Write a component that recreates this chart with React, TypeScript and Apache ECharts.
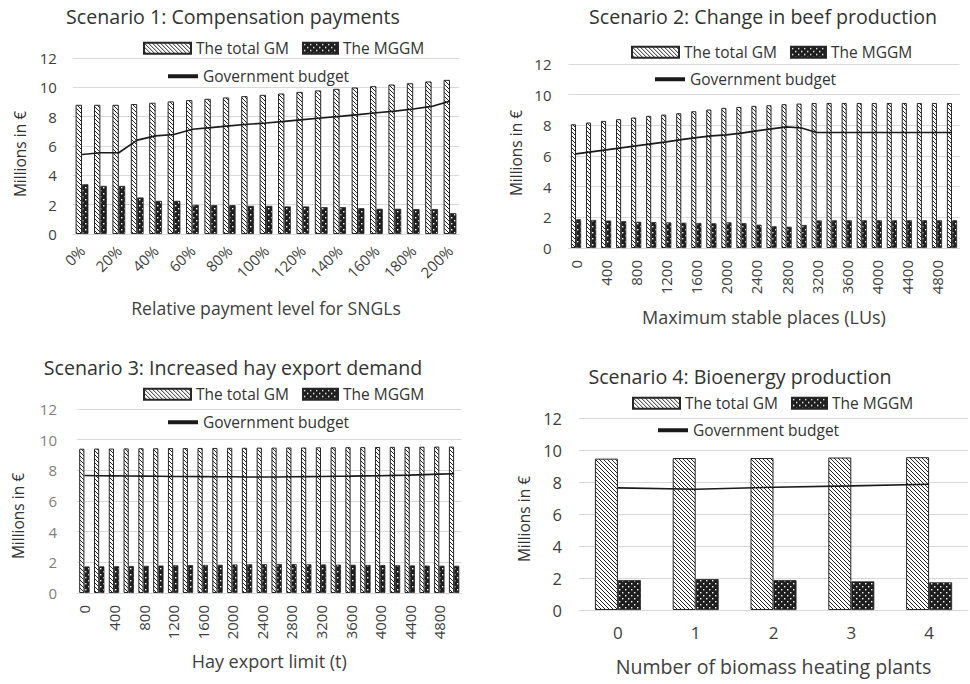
import React, { useEffect, useRef } from 'react';
import * as echarts from 'echarts';

// ---------- data ----------
const s1Cats = ['0%', '10%', '20%', '30%', '40%', '50%', '60%', '70%', '80%', '90%', '100%', '110%', '120%', '130%', '140%', '150%', '160%', '170%', '180%', '190%', '200%'];
const s1Total = [8.81, 8.81, 8.81, 8.86, 8.95, 9.04, 9.13, 9.22, 9.31, 9.4, 9.49, 9.58, 9.69, 9.79, 9.9, 9.99, 10.08, 10.19, 10.28, 10.4, 10.51];
const s1MGGM = [3.39, 3.28, 3.28, 2.49, 2.26, 2.26, 1.99, 1.97, 1.97, 1.92, 1.92, 1.88, 1.88, 1.83, 1.83, 1.76, 1.72, 1.72, 1.7, 1.7, 1.42];
const s1Budget = [5.42, 5.54, 5.54, 6.4, 6.69, 6.78, 7.14, 7.25, 7.37, 7.48, 7.57, 7.68, 7.8, 7.91, 8.02, 8.14, 8.27, 8.38, 8.52, 8.7, 9.06];

const s2Cats = ['0', '200', '400', '600', '800', '1000', '1200', '1400', '1600', '1800', '2000', '2200', '2400', '2600', '2800', '3000', '3200', '3400', '3600', '3800', '4000', '4200', '4400', '4600', '4800', '5000'];
const s2Total = [8.07, 8.18, 8.29, 8.4, 8.51, 8.62, 8.7, 8.79, 8.92, 9.03, 9.14, 9.2, 9.27, 9.31, 9.38, 9.42, 9.46, 9.46, 9.46, 9.46, 9.46, 9.46, 9.46, 9.46, 9.46, 9.46];
const s2MGGM = [1.87, 1.83, 1.79, 1.75, 1.71, 1.69, 1.67, 1.65, 1.63, 1.61, 1.67, 1.62, 1.52, 1.42, 1.39, 1.5, 1.8, 1.81, 1.81, 1.81, 1.81, 1.81, 1.81, 1.81, 1.81, 1.81];
const s2Budget = [6.14, 6.27, 6.4, 6.53, 6.66, 6.79, 6.92, 7.07, 7.2, 7.31, 7.38, 7.49, 7.64, 7.77, 7.9, 7.83, 7.53, 7.53, 7.53, 7.53, 7.53, 7.53, 7.53, 7.53, 7.53, 7.53];

const s3Cats = ['0', '200', '400', '600', '800', '1000', '1200', '1400', '1600', '1800', '2000', '2200', '2400', '2600', '2800', '3000', '3200', '3400', '3600', '3800', '4000', '4200', '4400', '4600', '4800', '5000'];
const s3Total = [9.41, 9.42, 9.42, 9.43, 9.44, 9.44, 9.45, 9.45, 9.46, 9.46, 9.47, 9.47, 9.48, 9.48, 9.49, 9.49, 9.5, 9.5, 9.51, 9.51, 9.52, 9.53, 9.53, 9.54, 9.55, 9.55];
const s3MGGM = [1.73, 1.74, 1.75, 1.76, 1.77, 1.79, 1.81, 1.82, 1.83, 1.84, 1.86, 1.87, 1.88, 1.89, 1.88, 1.87, 1.86, 1.85, 1.84, 1.83, 1.82, 1.81, 1.8, 1.79, 1.78, 1.78];
const s3Budget = [7.66, 7.65, 7.64, 7.63, 7.62, 7.61, 7.6, 7.6, 7.59, 7.58, 7.58, 7.57, 7.57, 7.57, 7.58, 7.59, 7.6, 7.61, 7.62, 7.64, 7.65, 7.67, 7.69, 7.72, 7.75, 7.78];

const s4Cats = ['0', '1', '2', '3', '4'];
const s4Total = [9.46, 9.5, 9.5, 9.53, 9.55];
const s4MGGM = [1.87, 1.93, 1.87, 1.79, 1.73];
const s4Budget = [7.63, 7.55, 7.67, 7.76, 7.86];

const NAME_GM = 'The total GM';
const NAME_MG = 'The MGGM';
const NAME_BUD = 'Government budget';

const FONT = '"Open Sans", "Noto Sans", sans-serif';

function stripePattern() {
  const s = 4;
  const c = document.createElement('canvas');
  c.width = s; c.height = s;
  const g = c.getContext('2d')!;
  g.fillStyle = '#ffffff';
  g.fillRect(0, 0, s, s);
  g.strokeStyle = '#262626';
  g.lineWidth = 1;
  g.beginPath();
  g.moveTo(-1, -1); g.lineTo(s + 1, s + 1);
  g.moveTo(-1, s - 1); g.lineTo(1, s + 1);
  g.moveTo(s - 1, -1); g.lineTo(s + 1, 1);
  g.stroke();
  return { image: c, repeat: 'repeat', imageWidth: s, imageHeight: s };
}

function dotPattern() {
  const s = 6;
  const c = document.createElement('canvas');
  c.width = s; c.height = s;
  const g = c.getContext('2d')!;
  g.fillStyle = '#1e1e1e';
  g.fillRect(0, 0, s, s);
  g.fillStyle = '#ffffff';
  g.fillRect(1, 1, 1.4, 1.4);
  g.fillRect(4, 4, 1.4, 1.4);
  return { image: c, repeat: 'repeat', imageWidth: s, imageHeight: s };
}

type Panel = {
  title: string; titleX: number; titleY: number;
  grid: { left: number; top: number; width: number; height: number };
  cats: string[]; total: number[]; mggm: number[]; budget: number[];
  barWidth: number;
  xName: string; xNameGap: number; xNameSize: number;
  xRotate: number; xInterval: number; xMargin: number; xLabelSize: number;
  yLabelSize: number; yLabelColor: string; yMargin: number;
  yNameX: number; yNameY: number;
  legGM: [number, number]; legMG: [number, number]; legBud: [number, number];
};

const panels: Panel[] = [
  {
    title: 'Scenario 1: Compensation payments', titleX: 233, titleY: 16,
    grid: { left: 72.8, top: 58, width: 386.4, height: 176 },
    cats: s1Cats, total: s1Total, mggm: s1MGGM, budget: s1Budget, barWidth: 6.4,
    xName: 'Relative payment level for SNGLs', xNameGap: 65, xNameSize: 17.6,
    xRotate: 45, xInterval: 1, xMargin: 14, xLabelSize: 15,
    yLabelSize: 15, yLabelColor: '#404040', yMargin: 16,
    yNameX: 20, yNameY: 154,
    legGM: [143, 48], legMG: [302, 48], legBud: [168, 76],
  },
  {
    title: 'Scenario 2: Change in beef production', titleX: 763, titleY: 16,
    grid: { left: 568.5, top: 64, width: 391, height: 184 },
    cats: s2Cats, total: s2Total, mggm: s2MGGM, budget: s2Budget, barWidth: 5.1,
    xName: 'Maximum stable places (LUs)', xNameGap: 60, xNameSize: 18,
    xRotate: 90, xInterval: 1, xMargin: 12, xLabelSize: 15,
    yLabelSize: 15, yLabelColor: '#404040', yMargin: 17,
    yNameX: 516, yNameY: 153,
    legGM: [631, 52], legMG: [790, 52], legBud: [655, 79],
  },
  {
    title: 'Scenario 3: Increased hay export demand', titleX: 233, titleY: 367,
    grid: { left: 77, top: 409, width: 384.5, height: 184 },
    cats: s3Cats, total: s3Total, mggm: s3MGGM, budget: s3Budget, barWidth: 5.2,
    xName: 'Hay export limit (t)', xNameGap: 59, xNameSize: 18,
    xRotate: 90, xInterval: 1, xMargin: 12, xLabelSize: 15,
    yLabelSize: 15, yLabelColor: '#7f7f7f', yMargin: 20,
    yNameX: 18, yNameY: 516,
    legGM: [143, 394], legMG: [302, 394], legBud: [168, 422],
  },
  {
    title: 'Scenario 4: Bioenergy production', titleX: 740, titleY: 376,
    grid: { left: 579, top: 418, width: 389, height: 192 },
    cats: s4Cats, total: s4Total, mggm: s4MGGM, budget: s4Budget, barWidth: 23,
    xName: 'Number of biomass heating plants', xNameGap: 46, xNameSize: 19.6,
    xRotate: 0, xInterval: 0, xMargin: 14, xLabelSize: 17,
    yLabelSize: 16.5, yLabelColor: '#404040', yMargin: 17,
    yNameX: 524, yNameY: 519,
    legGM: [632, 403], legMG: [791, 403], legBud: [658, 430],
  },
];

export default function App() {
  const ref = useRef<HTMLDivElement>(null);
  useEffect(() => {
    document.body.style.margin = '0';
    if (!ref.current) return;
    const chart = echarts.init(ref.current, undefined, { renderer: 'svg' });
    const stripes = stripePattern();
    const dots = dotPattern();
    const LEG_FS = 15.5;

    const grids: any[] = [];
    const xAxes: any[] = [];
    const yAxes: any[] = [];
    const series: any[] = [];
    const legends: any[] = [];
    const graphics: any[] = [];

    panels.forEach((p, i) => {
      grids.push({ ...p.grid, containLabel: false, outerBoundsMode: 'none' });
      xAxes.push({
        type: 'category', gridIndex: i, data: p.cats,
        axisTick: { show: false },
        axisLine: { lineStyle: { color: '#d9d9d9', width: 1 } },
        axisLabel: {
          interval: p.xInterval, rotate: p.xRotate, margin: p.xMargin,
          fontSize: p.xLabelSize, fontFamily: FONT, color: '#404040',
        },
        name: p.xName, nameLocation: 'middle', nameGap: p.xNameGap,
        nameTextStyle: { fontSize: p.xNameSize, fontFamily: FONT, color: '#404040' },
      });
      yAxes.push({
        type: 'value', gridIndex: i, min: 0, max: 12, interval: 2,
        axisLine: { show: false }, axisTick: { show: false },
        splitLine: { lineStyle: { color: '#d9d9d9', width: 1 } },
        axisLabel: { margin: p.yMargin, fontSize: p.yLabelSize, fontFamily: FONT, color: p.yLabelColor },
      });
      series.push({
        type: 'bar', name: NAME_GM, xAxisIndex: i, yAxisIndex: i, data: p.total,
        barWidth: p.barWidth, barGap: '0%',
        itemStyle: { color: stripes, borderColor: '#262626', borderWidth: 1 },
      });
      series.push({
        type: 'bar', name: NAME_MG, xAxisIndex: i, yAxisIndex: i, data: p.mggm,
        barWidth: p.barWidth, barGap: '0%',
        itemStyle: { color: dots, borderColor: '#262626', borderWidth: 0.8 },
      });
      series.push({
        type: 'line', name: NAME_BUD, xAxisIndex: i, yAxisIndex: i, data: p.budget,
        symbol: 'none', z: 5,
        lineStyle: { color: '#1a1a1a', width: 1.6 },
        itemStyle: { color: '#1a1a1a' },
      });
      const common = {
        orient: 'horizontal', padding: 0, itemGap: 0, selectedMode: false,
        textStyle: { fontSize: LEG_FS, fontFamily: FONT, color: '#333' },
      };
      legends.push({ ...common, data: [NAME_GM], left: p.legGM[0], top: p.legGM[1] - LEG_FS / 2, itemWidth: 47, itemHeight: 11, icon: 'rect' });
      legends.push({ ...common, data: [NAME_MG], left: p.legMG[0], top: p.legMG[1] - LEG_FS / 2, itemWidth: 35, itemHeight: 11, icon: 'rect' });
      legends.push({ ...common, data: [NAME_BUD], left: p.legBud[0], top: p.legBud[1] - LEG_FS / 2, itemWidth: 30, itemHeight: 4, icon: 'rect', itemStyle: { color: '#1a1a1a', borderWidth: 0 } });
      graphics.push({
        type: 'text', x: p.titleX, y: p.titleY,
        style: { text: p.title, fontSize: 19.6, fontFamily: FONT, fill: '#333', align: 'center', verticalAlign: 'middle' },
      });
      graphics.push({
        type: 'text', x: p.yNameX, y: p.yNameY, rotation: Math.PI / 2,
        style: { text: 'Millions in €', fontSize: 15.5, fontFamily: FONT, fill: '#333', align: 'center', verticalAlign: 'middle' },
      });
    });

    chart.setOption({
      animation: false,
      backgroundColor: '#ffffff',
      grid: grids,
      xAxis: xAxes,
      yAxis: yAxes,
      legend: legends,
      series,
      graphic: graphics,
    });
    return () => chart.dispose();
  }, []);
  return <div ref={ref} style={{ width: 970, height: 684 }} />;
}
